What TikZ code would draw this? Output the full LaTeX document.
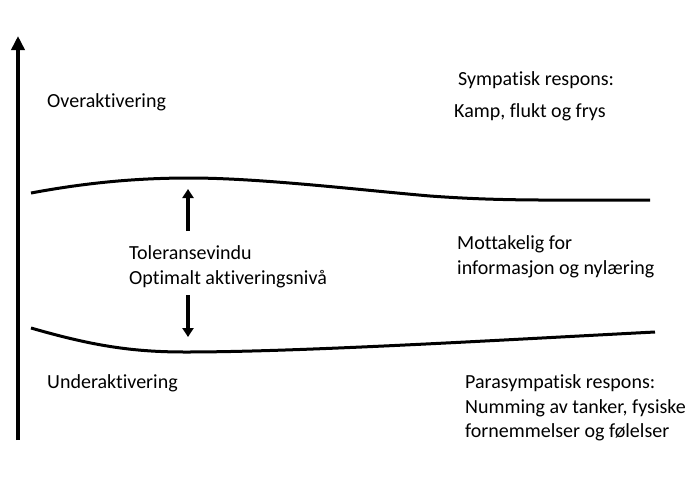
\documentclass[tikz,border=0pt]{standalone}
\usepackage{fontspec}
\setmainfont{Carlito}[RawFeature=-liga]
\usetikzlibrary{arrows.meta}
\begin{document}
\begin{tikzpicture}[x=1pt,y=-1pt,
  lbl/.style={anchor=west,inner sep=0pt,font=\fontsize{20}{24.5}\selectfont,align=left},
  curve/.style={line width=3pt},
  small/.style={line width=3.2pt,-{Triangle[length=9pt,width=11pt]}}]
\useasboundingbox (0,0) rectangle (700,485);
\coordinate (ax0) at (18,440);
\coordinate (ax1) at (18,36);
\draw[line width=3.5pt,-{Triangle[length=14pt,width=13pt]}] (ax0) -- (ax1);
% upper curve
\coordinate (u0) at (31,193);
\coordinate (u1) at (190,178);
\coordinate (u2) at (430,196);
\coordinate (u3) at (650,200);
\draw[curve] (u0) .. controls (90,182) and (140,178) .. (u1)
  .. controls (260,178) and (360,190) .. (u2)
  .. controls (500,201) and (540,200) .. (u3);
% lower curve
\coordinate (l0) at (31,328);
\coordinate (l1) at (185,352);
\coordinate (l2) at (655,332);
\draw[curve] (l0) .. controls (90,345) and (130,352) .. (l1)
  .. controls (300,352) and (500,340) .. (l2);
% small arrows
\coordinate (a0) at (188,231);
\coordinate (a1) at (188,189);
\coordinate (b0) at (188,295);
\coordinate (b1) at (188,337);
\draw[small] (a0) -- (a1);
\draw[small] (b0) -- (b1);
% texts
\node[lbl] (over) at (47,102) {Overaktivering};
\node[lbl] (symp) at (458,80) {Sympatisk respons:};
\node[lbl] (kamp) at (454,112) {Kamp, flukt og frys};
\node[lbl] (tol) at (129,267) {Toleransevindu\\Optimalt aktiveringsnivå};
\node[lbl] (mott) at (457,257) {Mottakelig for\\informasjon og nylæring};
\node[lbl] (under) at (47,383) {Underaktivering};
\node[lbl] (para) at (465,408) {Parasympatisk respons:\\Numming av tanker, fysiske\\fornemmelser og følelser};
\end{tikzpicture}
\end{document}
